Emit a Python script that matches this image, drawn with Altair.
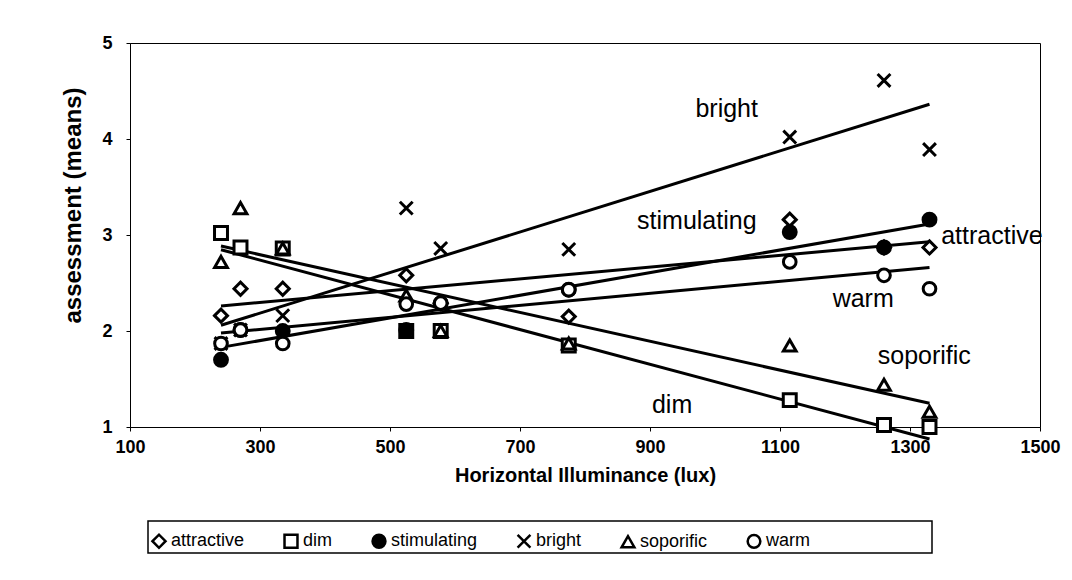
import altair as alt
import pandas as pd

# ---- data ----
lux = [240, 270, 335, 525, 578, 775, 1115, 1260, 1330]
attractive = [2.16, 2.44, 2.44, 2.58, 2.29, 2.15, 3.16, 2.87, 2.87]
dim = [3.02, 2.87, 2.86, 2.00, 2.00, 1.85, 1.28, 1.02, 1.00]
stimulating = [1.70, 2.01, 2.00, 2.01, 2.29, 2.43, 3.03, 2.87, 3.16]
bright = [1.87, 2.01, 2.16, 3.28, 2.86, 2.85, 4.02, 4.61, 3.89]
soporific = [2.72, 3.28, 2.86, 2.37, 2.00, 1.87, 1.85, 1.44, 1.16]
warm = [1.87, 2.01, 1.87, 2.28, 2.29, 2.43, 2.72, 2.58, 2.44]

series_names = ["attractive", "dim", "stimulating", "bright", "soporific", "warm"]
series_values = [attractive, dim, stimulating, bright, soporific, warm]

# in-plot line labels (data coordinates)
label_text = ["bright", "stimulating", "attractive", "warm", "soporific", "dim"]
label_lux = [1018, 972, 1426, 1228, 1322, 934]
label_val = [4.31, 3.15, 2.99, 2.33, 1.74, 1.23]

x_ticks = [100, 300, 500, 700, 900, 1100, 1300, 1500]
y_ticks = [1, 2, 3, 4, 5]

rows = []
for name, vals in zip(series_names, series_values):
    for xv, yv in zip(lux, vals):
        rows.append({"series": name, "lux": xv, "value": yv})
df = pd.DataFrame(rows)
labels_df = pd.DataFrame({"text": label_text, "lux": label_lux, "value": label_val})

FONT = "Liberation Sans"

x_scale = alt.Scale(domain=[100, 1500], nice=False, zero=False)
y_scale = alt.Scale(domain=[1, 5], nice=False, zero=False)

x_enc = alt.X("lux:Q", scale=x_scale,
              axis=alt.Axis(values=x_ticks, format="d", title="Horizontal Illuminance (lux)",
                            labelFontSize=18, labelFontWeight="bold", labelPadding=7,
                            titleFontSize=20, titleFontWeight="bold", titlePadding=9,
                            tickSize=4, labelFlush=False))
y_enc = alt.Y("value:Q", scale=y_scale,
              axis=alt.Axis(values=y_ticks, format="d", title="assessment (means)",
                            labelFontSize=18, labelFontWeight="bold", labelPadding=14,
                            titleFontSize=24, titleFontWeight="bold", titlePadding=16,
                            titleY=162, tickSize=4))

lines = alt.Chart(df).transform_regression(
    "lux", "value", groupby=["series"]
).mark_line(color="black", strokeWidth=3).encode(
    x=x_enc, y=y_enc, detail="series:N"
)

shape_range = ["diamond", "square", "circle", "M-1,-1L1,1M-1,1L1,-1", "triangle-up", "circle"]
fill_range = ["white", "white", "black", "white", "white", "white"]
stroke_range = ["black"] * 6
size_range = [170, 160, 35, 190, 160, 165]

legend = alt.Legend(title=None, orient="none", legendX=20, legendY=489,
                    direction="horizontal", columns=6, labelFontSize=18,
                    labelFont=FONT, columnPadding=34, symbolStrokeWidth=2.5,
                    labelOffset=3, labelColor="black")

points = alt.Chart(df).mark_point(filled=True, strokeWidth=3, opacity=1).encode(
    x=alt.X("lux:Q", scale=x_scale),
    y=alt.Y("value:Q", scale=y_scale),
    shape=alt.Shape("series:N", scale=alt.Scale(domain=series_names, range=shape_range), legend=legend),
    fill=alt.Fill("series:N", scale=alt.Scale(domain=series_names, range=fill_range), legend=legend),
    stroke=alt.Stroke("series:N", scale=alt.Scale(domain=series_names, range=stroke_range), legend=legend),
    size=alt.Size("series:N", scale=alt.Scale(domain=series_names, range=size_range), legend=legend),
)

texts = alt.Chart(labels_df).mark_text(fontSize=25, font=FONT, color="black",
                                        align="center", baseline="middle").encode(
    x=alt.X("lux:Q", scale=x_scale),
    y=alt.Y("value:Q", scale=y_scale),
    text="text:N",
)

box_df = pd.DataFrame({"k": [0]})
legend_box = alt.Chart(box_df).mark_rect(fill="white", stroke="black", strokeWidth=1.5).encode(
    x=alt.value(18), x2=alt.value(802), y=alt.value(478), y2=alt.value(510)
)

chart = alt.layer(legend_box, lines, points, texts).properties(
    width=910, height=384,
    padding={"left": 122, "top": 35, "right": 22, "bottom": 135},
    autosize=alt.AutoSizeParams(type="none"),
    background="white",
).configure_view(
    stroke="black", strokeWidth=1
).configure_axis(
    grid=False, domainColor="black", tickColor="black", labelColor="black",
    titleColor="black", labelFont=FONT, titleFont=FONT
)

chart.save("out.html", embed_options={"renderer": "svg", "actions": False})
